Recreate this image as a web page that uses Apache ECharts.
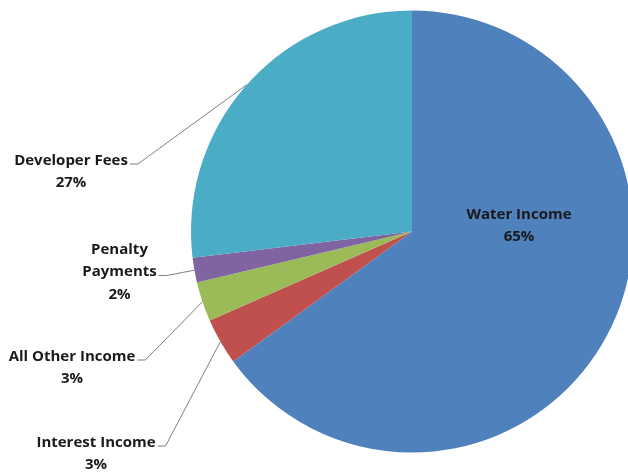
<!DOCTYPE html>
<html><head><meta charset="utf-8">
<script src="https://cdn.jsdelivr.net/npm/echarts@6/dist/echarts.min.js"></script>
<style>html,body{margin:0;padding:0;background:#fff}#c{width:628px;height:473px}</style>
</head><body><div id="c"></div>
<script>
const categories = ['Water Income', 'Interest Income', 'All Other Income', 'Penalty Payments', 'Developer Fees'];
const values = [65.0, 3.4, 2.9, 1.8, 26.9];
const colors = ['#4F81BD', '#C0504D', '#9BBB59', '#8064A2', '#4BACC6'];

// label placement (layout only): [centerX, topY, attachLine]
const labelPos = [
  [519, 203, 0],
  [96, 431, 0],
  [72, 345, 0],
  [119.5, 238, 1],
  [71, 149, 0]
];
const LH = 22.5;

const chart = echarts.init(document.getElementById('c'));
const total = values.reduce((a, b) => a + b, 0);
chart.setOption({
  animation: false,
  series: [{
    type: 'pie',
    center: [412, 231.5],
    radius: 221,
    startAngle: 90,
    clockwise: true,
    data: categories.map((n, i) => ({
      name: n, value: values[i],
      itemStyle: { color: colors[i] },
      label: i === 0 ? { position: 'inside' } : {},
      labelLine: i === 0 ? { show: false } : {}
    })),
    label: {
      show: true,
      position: 'outside',
      fontFamily: 'Open Sans',
      fontWeight: 'bold',
      fontSize: 15,
      lineHeight: LH,
      color: '#1a1a1a',
      align: 'center',
      formatter: p => p.name.replace('Penalty ', 'Penalty\n') + '\n' + Math.round(p.value / total * 100) + '%'
    },
    labelLine: {
      show: true,
      length: 10,
      length2: 10,
      lineStyle: { color: '#7f7f7f', width: 1 }
    },
    labelLayout: function (params) {
      const i = params.dataIndex;
      const pos = labelPos[i];
      const w = params.labelRect.width;
      const res = { x: pos[0], y: pos[1], align: 'center', verticalAlign: 'top' };
      if (i !== 0 && params.labelLinePoints) {
        const edge = params.labelLinePoints[0];
        const right = pos[0] + w / 2;
        const ay = pos[1] + LH * pos[2] + 15;
        res.labelLinePoints = [edge, [right + 10, ay], [right + 2, ay]];
      }
      return res;
    }
  }]
});
</script></body></html>
